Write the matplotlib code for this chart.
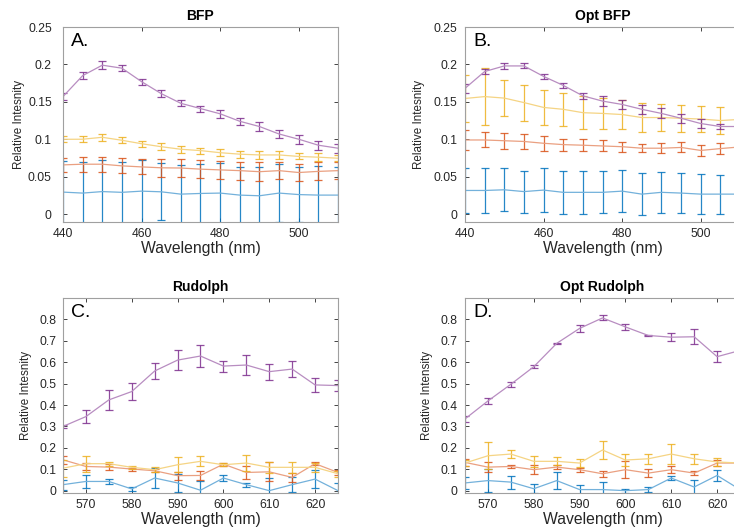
import numpy as np
import matplotlib.pyplot as plt

plt.rcParams['font.family'] = ['Liberation Sans', 'DejaVu Sans']

# wavelengths (nm)
wl_bfp = [440, 445, 450, 455, 460, 465, 470, 475, 480, 485, 490, 495, 500, 505, 510]
wl_rud = [565, 570, 575, 580, 585, 590, 595, 600, 605, 610, 615, 620, 625]

# --- A. BFP
a_blue = [0.0293, 0.028, 0.030, 0.029, 0.0306, 0.0297, 0.0266, 0.0275, 0.028, 0.0253, 0.0244, 0.028, 0.026, 0.0253, 0.0253]
a_blue_err = [0.042, 0.041, 0.042, 0.041, 0.042, 0.038, 0.039, 0.040, 0.040, 0.038, 0.038, 0.039, 0.037, 0.039, 0.037]
a_orange = [0.0657, 0.0666, 0.0666, 0.0644, 0.063, 0.0618, 0.0615, 0.060, 0.059, 0.058, 0.0566, 0.058, 0.0555, 0.057, 0.058]
a_orange_err = [0.009, 0.010, 0.010, 0.010, 0.010, 0.012, 0.012, 0.012, 0.012, 0.012, 0.013, 0.0115, 0.012, 0.012, 0.011]
a_yellow = [0.0999, 0.100, 0.1026, 0.0986, 0.094, 0.090, 0.0866, 0.0848, 0.082, 0.080, 0.079, 0.079, 0.077, 0.076, 0.0746]
a_yellow_err = [0.004, 0.004, 0.0045, 0.004, 0.004, 0.005, 0.0045, 0.004, 0.005, 0.0045, 0.005, 0.005, 0.004, 0.005, 0.004]
a_purple = [0.157, 0.185, 0.199, 0.195, 0.177, 0.161, 0.148, 0.141, 0.134, 0.124, 0.117, 0.107, 0.100, 0.092, 0.088]
a_purple_err = [0.0045, 0.005, 0.005, 0.004, 0.004, 0.005, 0.004, 0.004, 0.005, 0.005, 0.006, 0.006, 0.006, 0.006, 0.006]

# --- B. Opt BFP
b_blue = [0.0315, 0.0315, 0.0324, 0.030, 0.032, 0.029, 0.029, 0.029, 0.0306, 0.0266, 0.029, 0.028, 0.0266, 0.0266, 0.0266]
b_blue_err = [0.030, 0.030, 0.0285, 0.028, 0.029, 0.029, 0.029, 0.028, 0.028, 0.028, 0.027, 0.027, 0.027, 0.026, 0.026]
b_orange = [0.099, 0.099, 0.098, 0.097, 0.0946, 0.0928, 0.092, 0.091, 0.090, 0.088, 0.088, 0.089, 0.085, 0.0875, 0.0897]
b_orange_err = [0.013, 0.010, 0.0105, 0.0098, 0.010, 0.008, 0.008, 0.0073, 0.0067, 0.0053, 0.007, 0.0067, 0.007, 0.0075, 0.007]
b_yellow = [0.1545, 0.157, 0.155, 0.149, 0.1425, 0.140, 0.1355, 0.1345, 0.133, 0.129, 0.129, 0.128, 0.127, 0.125, 0.1265]
b_yellow_err = [0.032, 0.038, 0.024, 0.024, 0.023, 0.022, 0.022, 0.021, 0.019, 0.019, 0.018, 0.018, 0.018, 0.018, 0.018]
b_purple = [0.168, 0.1905, 0.198, 0.198, 0.184, 0.172, 0.158, 0.151, 0.1465, 0.140, 0.1345, 0.128, 0.121, 0.117, 0.117]
b_purple_err = [0.006, 0.003, 0.0045, 0.0033, 0.0033, 0.003, 0.004, 0.0067, 0.006, 0.006, 0.0067, 0.006, 0.0055, 0.0036, 0.004]

# --- C. Rudolph
c_blue = [0.028, 0.043, 0.043, 0.008, 0.059, 0.036, 0.002, 0.059, 0.028, 0.000, 0.028, 0.054, 0.000]
c_blue_err = [0.023, 0.031, 0.011, 0.010, 0.045, 0.040, 0.045, 0.014, 0.010, 0.060, 0.036, 0.042, 0.036]
c_orange = [0.144, 0.113, 0.110, 0.101, 0.093, 0.070, 0.071, 0.124, 0.085, 0.088, 0.062, 0.126, 0.085]
c_orange_err = [0.018, 0.015, 0.015, 0.007, 0.008, 0.018, 0.020, 0.007, 0.030, 0.045, 0.020, 0.008, 0.010]
c_yellow = [0.105, 0.126, 0.126, 0.109, 0.098, 0.121, 0.137, 0.121, 0.129, 0.109, 0.109, 0.109, 0.079]
c_yellow_err = [0.040, 0.037, 0.010, 0.008, 0.013, 0.036, 0.023, 0.006, 0.036, 0.025, 0.025, 0.020, 0.015]
c_purple = [0.300, 0.346, 0.424, 0.463, 0.559, 0.610, 0.629, 0.582, 0.587, 0.556, 0.568, 0.494, 0.491]
c_purple_err = [0.007, 0.030, 0.048, 0.039, 0.037, 0.048, 0.053, 0.026, 0.047, 0.038, 0.038, 0.033, 0.027]

# --- D. Opt Rudolph
d_blue = [0.036, 0.047, 0.040, 0.009, 0.047, 0.005, 0.005, 0.000, 0.005, 0.059, 0.017, 0.071, 0.005]
d_blue_err = [0.030, 0.052, 0.030, 0.020, 0.040, 0.020, 0.035, 0.010, 0.010, 0.010, 0.035, 0.025, 0.020]
d_orange = [0.132, 0.110, 0.113, 0.098, 0.110, 0.098, 0.079, 0.098, 0.082, 0.098, 0.082, 0.129, 0.129]
d_orange_err = [0.015, 0.023, 0.008, 0.020, 0.010, 0.010, 0.013, 0.040, 0.020, 0.015, 0.008, 0.015, 0.015]
d_yellow = [0.129, 0.163, 0.171, 0.137, 0.137, 0.129, 0.190, 0.143, 0.149, 0.171, 0.149, 0.134, 0.129]
d_yellow_err = [0.015, 0.062, 0.020, 0.025, 0.018, 0.017, 0.042, 0.028, 0.023, 0.047, 0.023, 0.020, 0.020]
d_purple = [0.335, 0.419, 0.497, 0.579, 0.688, 0.758, 0.807, 0.765, 0.725, 0.717, 0.719, 0.626, 0.655]
d_purple_err = [0.012, 0.015, 0.012, 0.007, 0.002, 0.018, 0.012, 0.014, 0.004, 0.020, 0.035, 0.025, 0.020]

colors = ['#0072BD', '#D95319', '#EDB120', '#7E2F8E']


def lighten(c, f=0.5):
    rgb = np.array(plt.matplotlib.colors.to_rgb(c))
    return tuple(rgb + (1 - rgb) * f)


def panel(rect, x, series, errs, title, letter, ylab, xlim, ylim, yticks, xticks, ypad, ylabx):
    ax = fig.add_axes(rect)
    for col, y, e in zip(colors, series, errs):
        ax.errorbar(x, y, yerr=e, fmt='none', ecolor=col, elinewidth=0.9,
                    capsize=2.6, capthick=0.9, alpha=0.85)
        ax.plot(x, y, color=lighten(col, 0.45), lw=0.9)
    ax.set_xlim(xlim)
    ax.set_ylim(ylim)
    ax.set_xticks(xticks)
    ax.set_yticks(yticks)
    ax.set_yticklabels(['%g' % t for t in yticks])
    ax.tick_params(direction='in', length=3, width=0.6, top=True, right=True,
                   labelsize=8.7, colors='#262626')
    ax.tick_params(axis='y', pad=ypad)
    ax.tick_params(axis='x', pad=4)
    for s in ax.spines.values():
        s.set_color('#a0a0a0')
        s.set_linewidth(0.8)
    ax.set_title(title, fontsize=10, fontweight='bold', pad=5)
    ax.set_xlabel('Wavelength (nm)', fontsize=11.3, color='#262626', labelpad=1)
    ax.set_ylabel(ylab, fontsize=8.4, color='#262626')
    ax.yaxis.set_label_coords(ylabx, 0.5)
    ax.text(0.03, 0.97, letter, transform=ax.transAxes, fontsize=14, va='top', ha='left')
    return ax


fig = plt.figure(figsize=(7.34, 5.27), dpi=100)

bfp_yt = [0, 0.05, 0.1, 0.15, 0.2, 0.25]
rud_yt = [0, 0.1, 0.2, 0.3, 0.4, 0.5, 0.6, 0.7, 0.8]

panel([0.0858, 0.5787, 0.3747, 0.370], wl_bfp,
      [a_blue, a_orange, a_yellow, a_purple],
      [a_blue_err, a_orange_err, a_yellow_err, a_purple_err],
      'BFP', 'A.', 'Relative Intesnity', (440, 510), (-0.0107, 0.25), bfp_yt, [440, 460, 480, 500],
      8, -0.138)
panel([0.6335, 0.5787, 0.3747, 0.370], wl_bfp,
      [b_blue, b_orange, b_yellow, b_purple],
      [b_blue_err, b_orange_err, b_yellow_err, b_purple_err],
      'Opt BFP', 'B.', 'Relative Intesnity', (440, 510), (-0.0107, 0.25), bfp_yt, [440, 460, 480, 500],
      5.5, -0.146)
panel([0.0858, 0.0645, 0.3747, 0.370], wl_rud,
      [c_blue, c_orange, c_yellow, c_purple],
      [c_blue_err, c_orange_err, c_yellow_err, c_purple_err],
      'Rudolph', 'C.', 'Relative Intesnity', (565, 625), (-0.011, 0.9), rud_yt, [570, 580, 590, 600, 610, 620],
      5, -0.113)
panel([0.6335, 0.0645, 0.3747, 0.370], wl_rud,
      [d_blue, d_orange, d_yellow, d_purple],
      [d_blue_err, d_orange_err, d_yellow_err, d_purple_err],
      'Opt Rudolph', 'D.', 'Relative Intensity', (565, 625), (-0.011, 0.9), rud_yt, [570, 580, 590, 600, 610, 620],
      5.5, -0.117)

fig.savefig('out.png', dpi=100)
